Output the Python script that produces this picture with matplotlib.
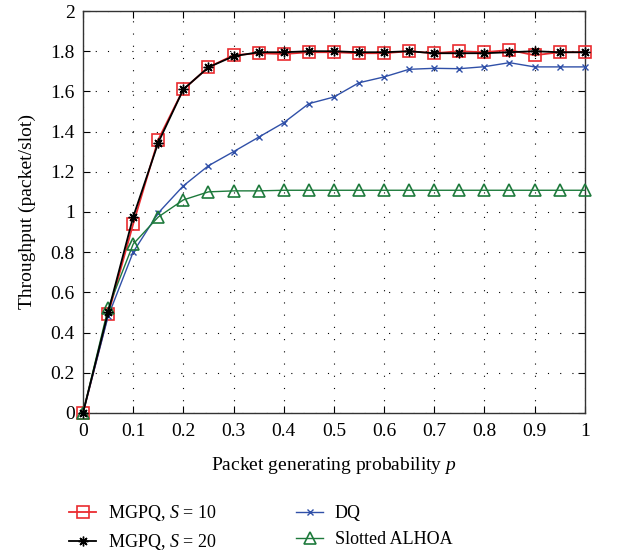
import matplotlib
matplotlib.use("Agg")
import matplotlib.pyplot as plt

plt.rcParams["font.family"] = ["Liberation Serif", "DejaVu Serif"]
plt.rcParams["mathtext.fontset"] = "custom"
plt.rcParams["mathtext.rm"] = "Liberation Serif"
plt.rcParams["mathtext.it"] = "Liberation Serif:italic"

p = [0, 0.05, 0.1, 0.15, 0.2, 0.25, 0.3, 0.35, 0.4, 0.45, 0.5,
     0.55, 0.6, 0.65, 0.7, 0.75, 0.8, 0.85, 0.9, 0.95, 1.0]
mgpq_s10 = [0, 0.49, 0.94, 1.36, 1.61, 1.72, 1.78, 1.79, 1.786, 1.795, 1.795,
            1.79, 1.79, 1.80, 1.79, 1.80, 1.795, 1.806, 1.78, 1.795, 1.795]
mgpq_s20 = [0, 0.50, 0.975, 1.345, 1.61, 1.72, 1.775, 1.795, 1.795, 1.80, 1.80,
            1.795, 1.795, 1.80, 1.79, 1.79, 1.79, 1.795, 1.80, 1.795, 1.795]
dq = [0, 0.48, 0.80, 0.995, 1.13, 1.23, 1.30, 1.372, 1.444, 1.539, 1.572,
      1.643, 1.672, 1.71, 1.715, 1.713, 1.723, 1.743, 1.722, 1.722, 1.722]
alhoa = [0, 0.52, 0.84, 0.975, 1.06, 1.10, 1.105, 1.105, 1.108, 1.108, 1.108,
         1.108, 1.108, 1.108, 1.108, 1.108, 1.108, 1.108, 1.108, 1.108, 1.108]

xticks = [0, 0.1, 0.2, 0.3, 0.4, 0.5, 0.6, 0.7, 0.8, 0.9, 1]
xticklabels = ["0", "0.1", "0.2", "0.3", "0.4", "0.5", "0.6", "0.7", "0.8", "0.9", "1"]
yticks = [0, 0.2, 0.4, 0.6, 0.8, 1, 1.2, 1.4, 1.6, 1.8, 2]
yticklabels = ["0", "0.2", "0.4", "0.6", "0.8", "1", "1.2", "1.4", "1.6", "1.8", "2"]

fig = plt.figure(figsize=(6.24, 5.52), dpi=100)
ax = fig.add_axes([0.133, 0.252, 0.804, 0.728])

asterisk = (8, 2, 0)
ax.plot(p, mgpq_s10, "-s", color="#ea2b2f", lw=1.3, ms=9, mfc="none", mew=1.2,
        label="MGPQ, $S$ = 10", clip_on=False, zorder=3)
ax.plot(p, mgpq_s20, "-", marker=asterisk, color="black", lw=1.3, ms=7, mew=1.0,
        label="MGPQ, $S$ = 20", clip_on=False, zorder=4)
ax.plot(p, dq, "-x", color="#3050a8", lw=1.0, ms=5, mew=1.0, label="DQ",
        clip_on=False, zorder=3)
ax.plot(p, alhoa, "-^", color="#1e7a3c", lw=1.0, ms=8, mfc="none", mew=1.2,
        label="Slotted ALHOA", clip_on=False, zorder=3)

ax.set_xlim(0, 1)
ax.set_ylim(0, 2)
ax.set_xticks(xticks)
ax.set_xticklabels(xticklabels)
ax.set_yticks(yticks)
ax.set_yticklabels(yticklabels)
ax.tick_params(direction="in", top=True, right=True, length=5, labelsize=14)
ax.tick_params(axis="x", pad=7)
ax.tick_params(axis="y", pad=6)
ax.grid(True, color="black", ls=(0, (1, 10)), lw=0.8)
for s in ax.spines.values():
    s.set_linewidth(1.0)
    s.set_color("#333333")

ax.set_xlabel("Packet generating probability $p$", fontsize=14, labelpad=11)
ax.set_ylabel("Throughput (packet/slot)", fontsize=14, labelpad=10)

fig.legend(loc="lower left", bbox_to_anchor=(0.085, -0.03), ncol=2, frameon=False,
           fontsize=13, handlelength=1.5, handletextpad=0.65, columnspacing=4.4,
           labelspacing=0.5)

fig.savefig("out.png", dpi=100)
